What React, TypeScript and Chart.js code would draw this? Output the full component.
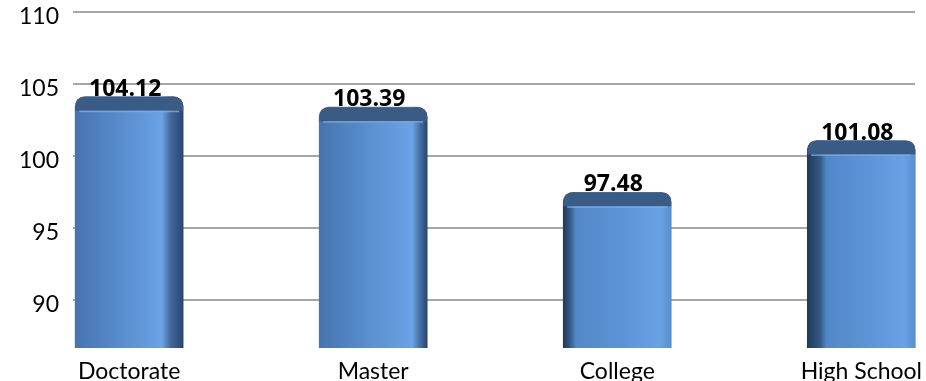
import React, { useEffect, useRef } from "react";
import { Chart, registerables } from "chart.js";

Chart.register(...registerables);

const categories = ["Doctorate", "Master", "College", "High School"];
const values = [104.12, 103.39, 97.48, 101.08];
const yTickValues = [90, 95, 100, 105, 110];
const valueLabels = ["104.12", "103.39", "97.48", "101.08"];

const FONT = "Lato, 'Open Sans', sans-serif";
const LABEL_FONT = "700 23px 'Open Sans', 'Liberation Sans', sans-serif";

const bar3d = {
  id: "bar3d",
  beforeDatasetsDraw(chart: any) {
    const { ctx, chartArea } = chart;
    const meta = chart.getDatasetMeta(0);
    const mid = (chartArea.left + chartArea.right) / 2;
    const half = (chartArea.right - chartArea.left) / 2;
    meta.data.forEach((el: any) => {
      const left = el.x - el.width / 2;
      const right = el.x + el.width / 2;
      const off = el.x - mid;
      const frac = 0.03 + 0.1 * Math.min(1, Math.abs(off) / half);
      const g = ctx.createLinearGradient(left, 0, right, 0);
      if (off < 0) {
        g.addColorStop(0, "#4674b0");
        g.addColorStop(0.45, "#5a8ecf");
        g.addColorStop(Math.max(0, 1 - frac - 0.08), "#6aa3e6");
        g.addColorStop(1 - frac, "#43699a");
        g.addColorStop(1, "#294670");
      } else {
        g.addColorStop(0, "#213a5a");
        g.addColorStop(frac, "#345782");
        g.addColorStop(Math.min(1, frac + 0.06), "#5288c9");
        g.addColorStop(0.6, "#5e95d8");
        g.addColorStop(0.9, "#69a2e4");
        g.addColorStop(1, "#5a8dcd");
      }
      el.options = Object.assign({}, el.options, { backgroundColor: g });
    });
  },
  afterDatasetsDraw(chart: any) {
    const { ctx } = chart;
    const meta = chart.getDatasetMeta(0);
    ctx.save();
    meta.data.forEach((el: any, i: number) => {
      const left = el.x - el.width / 2;
      const w = el.width;
      const top = el.y;
      const capH = 14;
      const r = 10;
      ctx.beginPath();
      ctx.moveTo(left + r, top);
      ctx.lineTo(left + w - r, top);
      ctx.quadraticCurveTo(left + w, top, left + w, top + r);
      ctx.lineTo(left + w, top + capH);
      ctx.lineTo(left, top + capH);
      ctx.lineTo(left, top + r);
      ctx.quadraticCurveTo(left, top, left + r, top);
      ctx.closePath();
      ctx.fillStyle = "#3a5b84";
      ctx.fill();
      ctx.fillStyle = "rgba(120,175,235,0.8)";
      ctx.fillRect(left + 4, top + capH, w - 8, 1.5);
      ctx.fillStyle = "#000000";
      ctx.font = LABEL_FONT;
      ctx.textAlign = "center";
      ctx.textBaseline = "bottom";
      ctx.fillText(valueLabels[i], el.x - 4, top + 4);
    });
    ctx.restore();
  },
};

export default function App() {
  const ref = useRef<HTMLCanvasElement>(null);
  useEffect(() => {
    document.body.style.margin = "0";
    const chart = new Chart(ref.current as HTMLCanvasElement, {
      type: "bar",
      data: {
        datasets: [
          {
            data: values.map((v, i) => ({ x: i, y: v })),
            backgroundColor: "#5b8fd0",
            borderWidth: 0,
            borderRadius: 10,
            borderSkipped: false,
            barThickness: 108,
            clip: { left: 20, top: 20, right: 20, bottom: 0 } as any,
          },
        ],
      },
      options: {
        animation: false,
        responsive: false,
        maintainAspectRatio: false,
        layout: { padding: { top: 12, right: 11, bottom: 0, left: 0 } },
        plugins: { legend: { display: false }, tooltip: { enabled: false } },
        scales: {
          x: {
            type: "linear",
            offset: false,
            min: -0.23,
            max: 3.22,
            grid: { display: false },
            border: { display: false },
            afterBuildTicks: (s: any) => {
              s.ticks = categories.map((_, i) => ({ value: i }));
            },
            afterFit: (s: any) => {
              s.height = 33;
              s.paddingLeft = 0;
              s.paddingRight = 0;
            },
            ticks: {
              padding: 2,
              color: "#000000",
              font: { family: FONT, size: 23 },
              maxRotation: 0,
              autoSkip: false,
              callback: (v: any) => categories[v] ?? "",
            },
          },
          y: {
            min: 86.67,
            max: 110,
            grid: { color: "#a6a6a6", lineWidth: 2, drawTicks: false },
            border: { display: false },
            afterBuildTicks: (s: any) => {
              s.ticks = yTickValues.map((v) => ({ value: v }));
            },
            afterFit: (s: any) => {
              s.width = 73;
              s.paddingTop = 0;
              s.paddingBottom = 0;
            },
            ticks: {
              padding: 14,
              labelOffset: 5,
              color: "#000000",
              font: { family: FONT, size: 23 },
            },
          },
        },
      },
      plugins: [bar3d],
    });
    return () => chart.destroy();
  }, []);
  return (
    <div style={{ width: 926, height: 381, background: "#ffffff" }}>
      <canvas ref={ref} width={926} height={381} style={{ display: "block" }} />
    </div>
  );
}
